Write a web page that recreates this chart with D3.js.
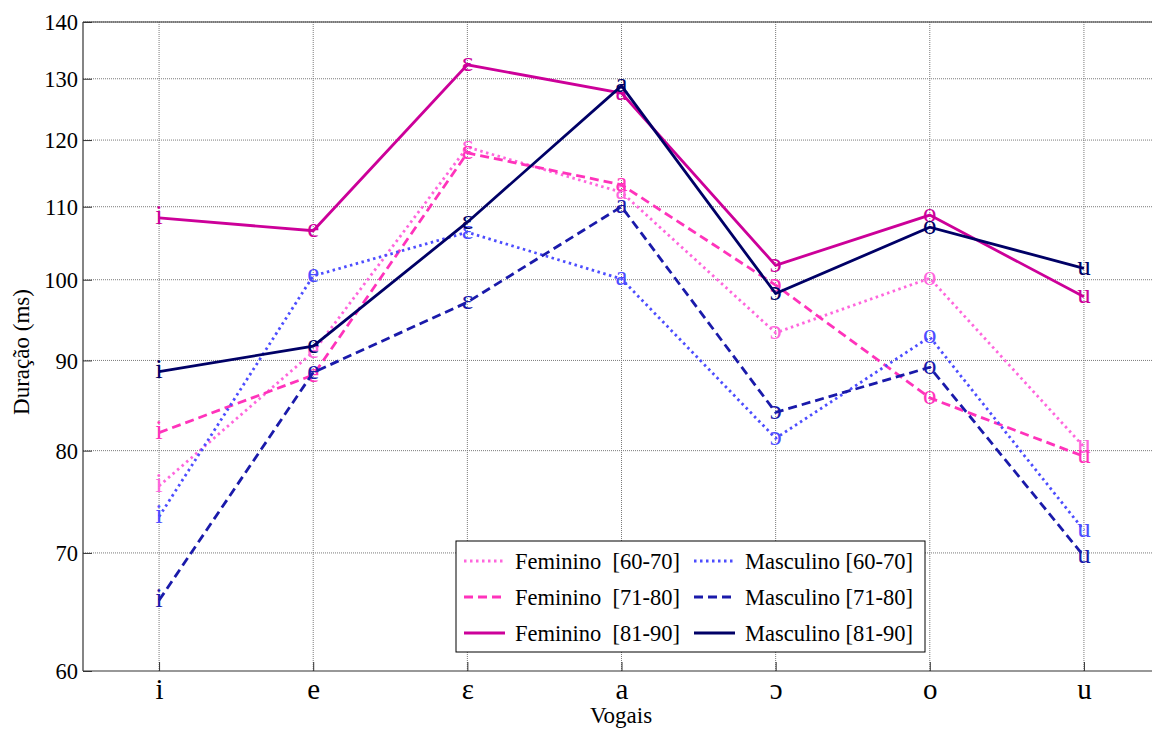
<!DOCTYPE html>
<html>
<head>
<meta charset="utf-8">
<script src="https://cdn.jsdelivr.net/npm/d3@7"></script>
<style>
  body { margin: 0; background: #fff; }
  text { font-family: "Liberation Serif", "Times New Roman", serif; }
</style>
</head>
<body>
<svg id="chart" width="1152" height="729"></svg>
<script>
// vowels on x axis
const vowels = ["i", "e", "ɛ", "a", "ɔ", "o", "u"];
const yTicks = [60, 70, 80, 90, 100, 110, 120, 130, 140];

// durations (ms)
const fem6070 = [76.4, 91.0, 118.9, 112.1, 93.3, 100.2, 80.4];
const fem7180 = [81.9, 88.3, 118.0, 113.2, 99.3, 85.7, 79.4];
const fem8190 = [108.4, 106.6, 132.4, 127.6, 101.9, 108.8, 97.8];
const masc6070 = [73.4, 100.5, 106.4, 100.1, 81.3, 92.8, 72.1];
const masc7180 = [65.8, 88.6, 97.1, 110.0, 84.1, 89.2, 69.7];
const masc8190 = [88.7, 91.7, 107.8, 128.8, 98.2, 107.1, 101.5];

const seriesNames = ["Feminino  [60-70]", "Feminino  [71-80]", "Feminino  [81-90]",
                     "Masculino [60-70]", "Masculino [71-80]", "Masculino [81-90]"];

const series = [
    {name: seriesNames[0], values: fem6070, color: "#FF66DD", dash: "2.5,3.5"},
    {name: seriesNames[1], values: fem7180, color: "#FF33BB", dash: "9,5"},
    {name: seriesNames[2], values: fem8190, color: "#CC0099", dash: null},
    {name: seriesNames[3], values: masc6070, color: "#4D4DFF", dash: "2.5,3.5"},
    {name: seriesNames[4], values: masc7180, color: "#1A1AAA", dash: "9,5"},
    {name: seriesNames[5], values: masc8190, color: "#000066", dash: null}
];

const svg = d3.select("svg#chart");
const plotLeft = 83, plotTop = 22, plotBottom = 671;

const x = d3.scaleLinear().domain([0.5, 7.5]).range([82, 1161]);
const y = d3.scaleLog().domain([60, 140]).range([plotBottom, plotTop]);

// grid
const grid = svg.append("g").attr("id", "grid");
grid.selectAll("line.gy").data(yTicks.slice(1)).enter().append("line")
    .attr("x1", plotLeft).attr("x2", 1152)
    .attr("y1", d => y(d)).attr("y2", d => y(d))
    .attr("stroke", "#7a7a7a").attr("stroke-width", 1)
    .attr("stroke-dasharray", "1,1");
grid.selectAll("line.gx").data(d3.range(1, 8)).enter().append("line")
    .attr("x1", d => x(d)).attr("x2", d => x(d))
    .attr("y1", plotTop).attr("y2", plotBottom)
    .attr("stroke", "#7a7a7a").attr("stroke-width", 1)
    .attr("stroke-dasharray", "1,1");

// box
svg.append("line").attr("x1", plotLeft).attr("x2", 1152).attr("y1", plotTop).attr("y2", plotTop)
    .attr("stroke", "#333").attr("stroke-width", 1);
svg.append("line").attr("x1", plotLeft).attr("x2", 1152).attr("y1", plotBottom).attr("y2", plotBottom)
    .attr("stroke", "#333").attr("stroke-width", 1.2);
svg.append("line").attr("x1", plotLeft).attr("x2", plotLeft).attr("y1", plotTop).attr("y2", plotBottom)
    .attr("stroke", "#333").attr("stroke-width", 1.2);

// y axis ticks (inside)
const yAxis = d3.axisRight(y).tickValues(yTicks).tickFormat(d3.format("d"))
    .tickSize(9);
const gy = svg.append("g").attr("transform", `translate(${plotLeft},0)`).call(yAxis);
gy.select(".domain").remove();
gy.selectAll(".tick line").attr("stroke", "#333");
gy.selectAll(".tick text")
    .attr("font-size", 22.5)
    .attr("fill", "#000")
    .attr("text-anchor", "end")
    .attr("x", -5)
    .attr("dy", "0.35em")
    .style("font-family", "Liberation Serif");

// x axis ticks (inside)
const xAxis = d3.axisTop(x).tickValues(d3.range(1, 8)).tickFormat(d => vowels[d - 1])
    .tickSize(9);
const gx = svg.append("g").attr("transform", `translate(0,${plotBottom})`).call(xAxis);
gx.select(".domain").remove();
gx.selectAll(".tick line").attr("stroke", "#333");
gx.selectAll(".tick text")
    .attr("font-size", 29)
    .attr("fill", "#000")
    .attr("y", 28)
    .attr("dy", 0)
    .style("font-family", "Liberation Serif");

// axis labels
svg.append("text").attr("x", 621).attr("y", 723).attr("text-anchor", "middle")
    .attr("font-size", 23).text("Vogais");
svg.append("text").attr("transform", "translate(29,352) rotate(-90)")
    .attr("text-anchor", "middle").attr("font-size", 23).text("Duração (ms)");

// series
const line = d3.line().x((d, i) => x(i + 1)).y(d => y(d));
const plot = svg.append("g").attr("id", "series");
series.forEach(s => {
    plot.append("path")
        .datum(s.values)
        .attr("d", line)
        .attr("fill", "none")
        .attr("stroke", s.color)
        .attr("stroke-width", 2.8)
        .attr("stroke-dasharray", s.dash);
    plot.selectAll(null).data(s.values).enter().append("text")
        .attr("x", (d, i) => x(i + 1))
        .attr("y", d => y(d))
        .attr("dy", "0.24em")
        .attr("text-anchor", "middle")
        .attr("font-size", 27)
        .attr("fill", s.color)
        .text((d, i) => vowels[i]);
});

// legend
const lg = svg.append("g").attr("transform", "translate(456,541)");
lg.append("rect").attr("width", 469).attr("height", 111)
    .attr("fill", "#fff").attr("stroke", "#000").attr("stroke-width", 1);
const order = [0, 3, 1, 4, 2, 5];
order.forEach((k, j) => {
    const s = series[k];
    const col = j % 2, row = Math.floor(j / 2);
    const lx = col === 0 ? 8 : 238;
    const ly = 20 + row * 36;
    lg.append("line").attr("x1", lx).attr("x2", lx + 41)
        .attr("y1", ly).attr("y2", ly)
        .attr("stroke", s.color).attr("stroke-width", 2.8)
        .attr("stroke-dasharray", s.dash);
    lg.append("text").attr("x", lx + 51).attr("y", ly).attr("dy", "0.35em")
        .attr("font-size", 22.5).attr("fill", "#000")
        .style("white-space", "pre")
        .text(s.name);
});
</script>
</body>
</html>
